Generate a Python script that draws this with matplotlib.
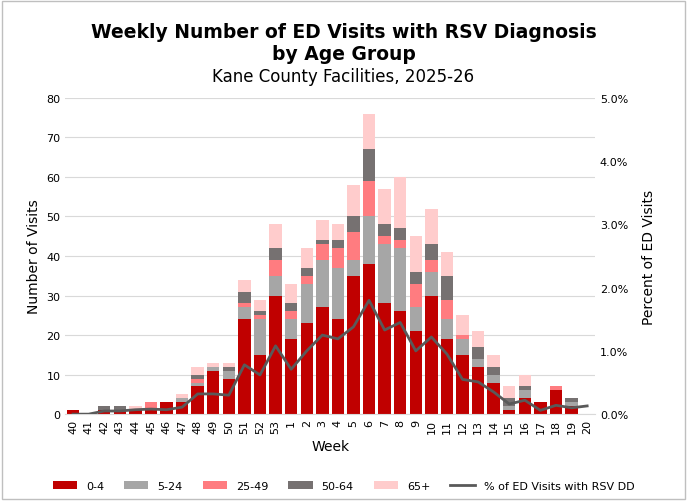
import matplotlib
matplotlib.use("Agg")
import matplotlib.pyplot as plt
import numpy as np
from matplotlib.ticker import FuncFormatter

weeks = [str(w) for w in range(40, 54)] + [str(w) for w in range(1, 21)]
age_0_4 = [1, 0, 1, 1, 1, 1, 3, 3, 7, 11, 9, 24, 15, 30, 19, 23, 27, 24, 35, 38, 28, 26, 21, 30, 19, 15, 12, 8, 1, 4, 3, 6, 2, 0]
age_5_24 = [0, 0, 0, 0, 0, 0, 0, 1, 1, 1, 2, 3, 9, 5, 5, 10, 12, 13, 4, 12, 15, 16, 6, 6, 5, 4, 2, 2, 1, 2, 0, 0, 1, 0]
age_25_49 = [0, 0, 0, 0, 0, 2, 0, 0, 1, 0, 0, 1, 1, 4, 2, 2, 4, 5, 7, 9, 2, 2, 6, 3, 5, 1, 0, 0, 0, 0, 0, 1, 0, 0]
age_50_64 = [0, 0, 1, 1, 0, 0, 0, 0, 1, 0, 1, 3, 1, 3, 2, 2, 1, 2, 4, 8, 3, 3, 3, 4, 6, 0, 3, 2, 2, 1, 0, 0, 1, 0]
age_65 = [0, 0, 0, 0, 1, 0, 0, 1, 2, 1, 1, 3, 3, 6, 5, 5, 5, 4, 8, 9, 9, 13, 9, 9, 6, 5, 4, 3, 3, 3, 0, 0, 0, 0]
pct_rsv = [0.0, 0.0, 0.05, 0.05, 0.07, 0.08, 0.07, 0.11, 0.32, 0.32, 0.30, 0.78, 0.62, 1.08, 0.71, 1.0, 1.25, 1.19, 1.38, 1.80,
           1.33, 1.45, 1.0, 1.22, 0.95, 0.55, 0.51, 0.35, 0.16, 0.22, 0.06, 0.14, 0.10, 0.13]

series = [("0-4", age_0_4, "#C00000"), ("5-24", age_5_24, "#A6A6A6"), ("25-49", age_25_49, "#FF7C80"),
          ("50-64", age_50_64, "#767171"), ("65+", age_65, "#FFCCCC")]

fig = plt.figure(figsize=(6.87, 5.02), dpi=100)
ax = fig.add_axes([0.095, 0.173, 0.771, 0.63])
x = np.arange(len(weeks))
bottom = np.zeros(len(weeks))
for name, vals, col in series:
    ax.bar(x, vals, 0.8, bottom=bottom, color=col, label=name, zorder=2)
    bottom += np.array(vals)

ax.set_ylim(0, 80)
ax.set_yticks(range(0, 81, 10))
ax.set_xlim(-0.5, len(weeks) - 0.5)
ax.set_xticks(x)
ax.set_xticklabels(weeks, rotation=90, fontsize=8)
ax.tick_params(axis="y", labelsize=8, length=0)
ax.tick_params(axis="x", length=0)
ax.grid(axis="y", color="#D9D9D9", zorder=0)
for s in ax.spines.values():
    s.set_visible(False)
ax.spines["bottom"].set_visible(True)
ax.spines["bottom"].set_color("#D9D9D9")
ax.set_ylabel("Number of Visits", fontsize=10)
ax.set_xlabel("Week", fontsize=10)

ax2 = ax.twinx()
ax2.plot(x, pct_rsv, color="#595959", lw=2, label="% of ED Visits with RSV DD", zorder=3)
ax2.set_ylim(0, 5)
ax2.yaxis.set_major_formatter(FuncFormatter(lambda v, p: f"{v:.1f}%"))
ax2.tick_params(axis="y", labelsize=8, length=0)
for s in ax2.spines.values():
    s.set_visible(False)
ax2.set_ylabel("Percent of ED Visits", fontsize=10, labelpad=10)

fig.text(0.5, 0.955, "Weekly Number of ED Visits with RSV Diagnosis\nby Age Group", ha="center", va="top",
         fontsize=13.5, fontweight="bold", linespacing=1.2)
fig.text(0.5, 0.865, "Kane County Facilities, 2025-26", ha="center", va="top", fontsize=12)

h1, l1 = ax.get_legend_handles_labels()
h2, l2 = ax2.get_legend_handles_labels()
fig.legend(h1 + h2, l1 + l2, loc="lower center", bbox_to_anchor=(0.5, 0.0), ncol=6, frameon=False,
           fontsize=8, handlelength=2.2, columnspacing=1.8)

border = plt.Rectangle((0.003, 0.003), 0.994, 0.994, transform=fig.transFigure, fill=False, ec="#BFBFBF", lw=1)
fig.add_artist(border)
fig.savefig("out.png", dpi=100)
